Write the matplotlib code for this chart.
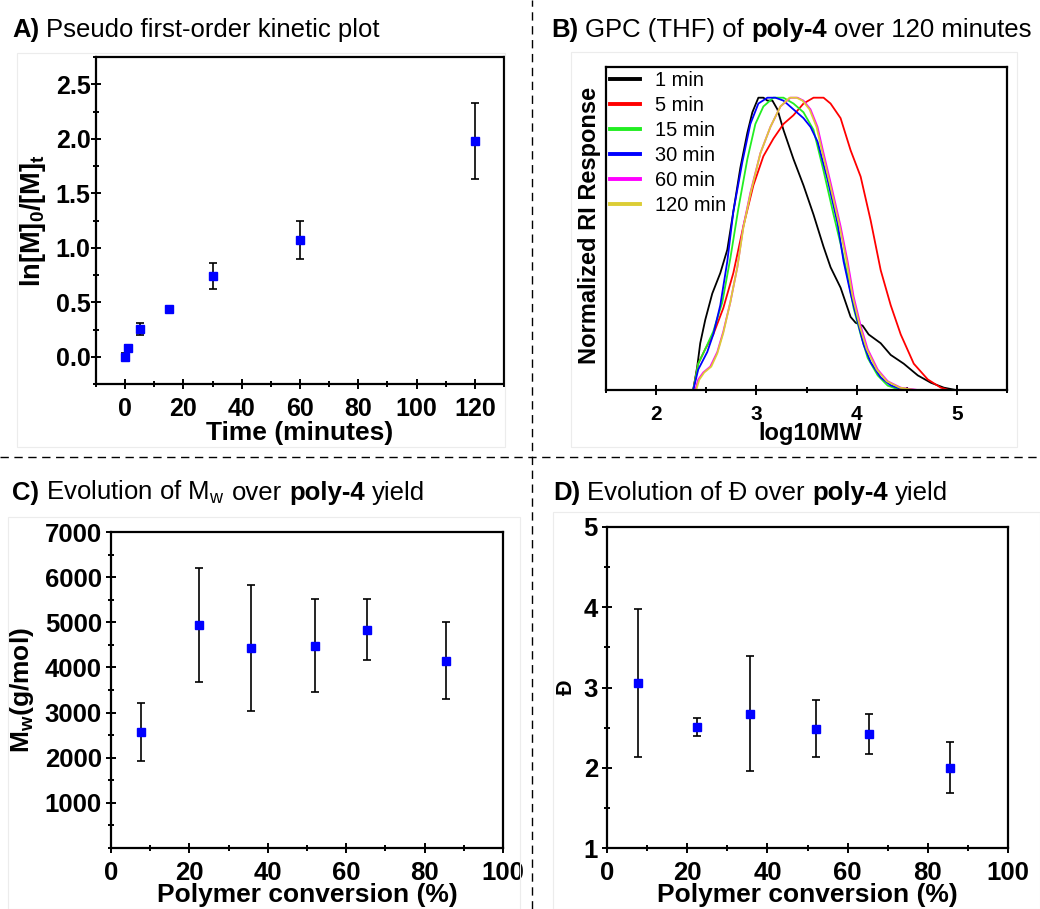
import matplotlib
matplotlib.use('Agg')
import matplotlib.pyplot as plt
from matplotlib.ticker import MultipleLocator, FormatStrFormatter
from matplotlib.lines import Line2D
from matplotlib.patches import Rectangle

plt.rcParams['font.family'] = ['Liberation Sans', 'DejaVu Sans']
plt.rcParams['font.weight'] = 'bold'
plt.rcParams['axes.labelweight'] = 'bold'
plt.rcParams['mathtext.fontset'] = 'custom'
plt.rcParams['mathtext.rm'] = 'Liberation Sans'
plt.rcParams['mathtext.bf'] = 'Liberation Sans:bold'
plt.rcParams['mathtext.it'] = 'Liberation Sans:italic'

# ---------------- data ----------------
# A) kinetic plot
time_min = [0, 1, 5, 15, 30, 60, 120]
ln_ratio = [0.0, 0.076, 0.254, 0.437, 0.74, 1.07, 1.977]
ln_err = [0.03, 0.03, 0.056, 0.02, 0.118, 0.174, 0.348]

# B) GPC traces (log10MW, normalized RI)
gpc_labels = ['1 min', '5 min', '15 min', '30 min', '60 min', '120 min']
gpc_colors = ['#000000', '#ff0000', '#22ee22', '#0000ff', '#ff00ff', '#dccd35']
black_x = [2.37, 2.41, 2.44, 2.49, 2.56, 2.64, 2.71, 2.77, 2.84, 2.91, 2.96, 3.02, 3.07, 3.11, 3.16, 3.21,
           3.27, 3.37, 3.47, 3.57, 3.67, 3.74, 3.84, 3.94, 3.99, 4.06, 4.12, 4.24, 4.34, 4.47, 4.61, 4.74,
           4.87, 4.99]
black_y = [0.0, 0.08, 0.16, 0.24, 0.33, 0.40, 0.48, 0.61, 0.76, 0.88, 0.95, 1.0, 1.0, 0.99, 0.99, 0.96,
           0.89, 0.79, 0.70, 0.60, 0.49, 0.42, 0.35, 0.25, 0.23, 0.22, 0.19, 0.16, 0.12, 0.09, 0.05, 0.025,
           0.008, 0.0]
red_x = [2.37, 2.42, 2.49, 2.57, 2.67, 2.77, 2.87, 2.97, 3.07, 3.17, 3.27, 3.37, 3.47, 3.57, 3.67, 3.74,
         3.84, 3.94, 4.04, 4.14, 4.24, 4.34, 4.44, 4.57, 4.71, 4.84, 4.92]
red_y = [0.0, 0.09, 0.14, 0.19, 0.28, 0.40, 0.56, 0.70, 0.80, 0.86, 0.91, 0.94, 0.98, 1.0, 1.0, 0.98,
         0.93, 0.82, 0.73, 0.58, 0.41, 0.29, 0.19, 0.09, 0.036, 0.008, 0.0]
green_x = [2.37, 2.42, 2.49, 2.57, 2.66, 2.74, 2.82, 2.91, 2.99, 3.07, 3.17, 3.27, 3.37, 3.47, 3.57, 3.67,
           3.77, 3.84, 3.91, 3.97, 4.04, 4.11, 4.21, 4.31, 4.41, 4.47]
green_y = [0.0, 0.09, 0.14, 0.20, 0.30, 0.45, 0.62, 0.79, 0.91, 0.97, 1.0, 1.0, 0.98, 0.95, 0.89, 0.75,
           0.60, 0.50, 0.39, 0.28, 0.19, 0.11, 0.05, 0.015, 0.003, 0.0]
blue_x = [2.37, 2.42, 2.51, 2.57, 2.64, 2.71, 2.77, 2.86, 2.94, 3.02, 3.11, 3.19, 3.27, 3.37, 3.47, 3.54,
          3.61, 3.71, 3.81, 3.87, 3.94, 4.01, 4.07, 4.14, 4.24, 4.34, 4.44, 4.54]
blue_y = [0.0, 0.07, 0.13, 0.19, 0.29, 0.44, 0.61, 0.78, 0.91, 0.98, 1.0, 1.0, 0.99, 0.96, 0.93, 0.90,
          0.85, 0.72, 0.57, 0.44, 0.33, 0.235, 0.155, 0.095, 0.043, 0.016, 0.004, 0.0]
magenta_x = [2.39, 2.42, 2.47, 2.54, 2.61, 2.67, 2.74, 2.81, 2.87, 2.94, 3.04, 3.14, 3.24, 3.34, 3.41,
             3.47, 3.54, 3.61, 3.67, 3.74, 3.84, 3.91, 3.97, 4.04, 4.11, 4.21, 4.31, 4.44, 4.61]
magenta_y = [0.0, 0.036, 0.06, 0.08, 0.13, 0.20, 0.30, 0.42, 0.56, 0.675, 0.81, 0.90, 0.97, 1.0, 1.0,
             0.99, 0.96, 0.90, 0.81, 0.71, 0.56, 0.44, 0.32, 0.22, 0.14, 0.07, 0.03, 0.008, 0.0]
yellow_x = [2.40, 2.43, 2.48, 2.55, 2.61, 2.67, 2.74, 2.81, 2.87, 2.94, 3.04, 3.14, 3.24, 3.33, 3.40,
            3.46, 3.53, 3.60, 3.66, 3.73, 3.83, 3.90, 3.96, 4.03, 4.10, 4.20, 4.30, 4.43, 4.58]
yellow_y = [0.0, 0.035, 0.06, 0.08, 0.125, 0.195, 0.30, 0.42, 0.555, 0.67, 0.81, 0.90, 0.97, 1.0, 1.0,
            0.99, 0.96, 0.90, 0.81, 0.71, 0.56, 0.44, 0.32, 0.22, 0.14, 0.07, 0.03, 0.008, 0.0]

# C) / D) vs conversion
conversion = [7.7, 22.4, 35.6, 52.1, 65.4, 85.5]
mw = [2570, 4940, 4430, 4480, 4840, 4150]
mw_err = [635, 1265, 1395, 1035, 680, 850]
disp = [3.06, 2.505, 2.675, 2.488, 2.426, 2.003]
disp_err = [0.92, 0.11, 0.72, 0.355, 0.25, 0.32]

# ---------------- figure ----------------
W, H = 1040, 909
fig = plt.figure(figsize=(W / 100, H / 100), dpi=100)


def ax_at(l, t, r, b):
    return fig.add_axes([l / W, 1 - b / H, (r - l) / W, (b - t) / H])


# faint panel frames
for (l, t, r, b) in [(17, 53, 505, 447), (571, 52, 1017, 447), (8, 517, 520, 909), (553, 512, 1040, 909)]:
    fig.add_artist(Rectangle((l / W, 1 - b / H), (r - l) / W, (b - t) / H, transform=fig.transFigure,
                             fill=False, edgecolor='#ececec', lw=0.8))

axA = ax_at(96, 57, 504, 384)
axB = ax_at(606, 67, 1007, 390)
axC = ax_at(111, 532, 503, 848)
axD = ax_at(607, 527, 1008, 848)


def style(ax, size=18, xpad=6, ypad=2):
    for s in ax.spines.values():
        s.set_linewidth(1.6)
    ax.tick_params(which='both', direction='inout', width=1.4, top=False, right=False, labelsize=size)
    ax.tick_params(which='major', length=7)
    ax.tick_params(which='minor', length=4.5)
    ax.tick_params(axis='x', pad=xpad)
    ax.tick_params(axis='y', pad=ypad)


def points(ax, x, y, e):
    ax.errorbar(x, y, yerr=e, fmt='none', ecolor='black', elinewidth=1.2, capsize=3, capthick=1.2, zorder=2)
    ax.plot(x, y, 's', color='#0000ff', ms=5.8, zorder=3)


# A
points(axA, time_min, ln_ratio, ln_err)
axA.set_xlim(-10, 130)
axA.set_ylim(-0.25, 2.75)
axA.xaxis.set_major_locator(MultipleLocator(20))
axA.xaxis.set_minor_locator(MultipleLocator(10))
axA.yaxis.set_major_locator(MultipleLocator(0.5))
axA.yaxis.set_minor_locator(MultipleLocator(0.25))
axA.yaxis.set_major_formatter(FormatStrFormatter('%.1f'))
style(axA, ypad=0.5)
axA.set_xlabel('Time (minutes)', fontsize=19, fontweight='bold', va='top')
axA.xaxis.set_label_coords(0.5, -0.112)
axA.set_ylabel(r'ln[M]$_\mathregular{0}$/[M]$_\mathregular{t}$', fontsize=19.5, fontweight='bold', va='center')
axA.yaxis.set_label_coords(-0.154, 0.5)

# B
gpc_x = [black_x, red_x, green_x, blue_x, magenta_x, yellow_x]
gpc_y = [black_y, red_y, green_y, blue_y, magenta_y, yellow_y]
for gx, gy, c in zip(gpc_x, gpc_y, gpc_colors):
    axB.plot(gx, gy, color=c, lw=1.3)
axB.set_xlim(1.5, 5.5)
axB.set_ylim(0, 1.105)
axB.xaxis.set_major_locator(MultipleLocator(1))
axB.xaxis.set_minor_locator(MultipleLocator(0.5))
axB.set_yticks([])
style(axB, size=15, xpad=7)
axB.set_xlabel('log10MW', fontsize=17, fontweight='bold', va='top')
axB.xaxis.set_label_coords(0.51, -0.098)
axB.set_ylabel('Normalized RI Response', fontsize=17, fontweight='bold', va='center')
axB.yaxis.set_label_coords(-0.04, 0.51)
handles = [Line2D([], [], color=c, lw=2.8) for c in gpc_colors]
axB.legend(handles, gpc_labels, loc='upper left', bbox_to_anchor=(0.0, 1.0), frameon=False,
           prop={'size': 14.4, 'weight': 'normal'}, handlelength=1.5, handletextpad=0.75,
           labelspacing=0.3, borderaxespad=0.1, borderpad=0.1)

# C
points(axC, conversion, mw, mw_err)
axC.set_xlim(0, 100)
axC.set_ylim(0, 7000)
axC.xaxis.set_major_locator(MultipleLocator(20))
axC.xaxis.set_minor_locator(MultipleLocator(10))
axC.yaxis.set_minor_locator(MultipleLocator(500))
axC.set_yticks([1000, 2000, 3000, 4000, 5000, 6000, 7000])
style(axC, size=18.5, xpad=6, ypad=3)
axC.set_xlabel('Polymer conversion (%)', fontsize=19, fontweight='bold', va='top')
axC.xaxis.set_label_coords(0.5, -0.11)
axC.set_ylabel(r'M$_\mathregular{w}$(g/mol)', fontsize=19, fontweight='bold', va='center')
axC.yaxis.set_label_coords(-0.227, 0.5)

# D
points(axD, conversion, disp, disp_err)
axD.set_xlim(0, 100)
axD.set_ylim(1, 5)
axD.xaxis.set_major_locator(MultipleLocator(20))
axD.xaxis.set_minor_locator(MultipleLocator(10))
axD.yaxis.set_major_locator(MultipleLocator(1))
axD.yaxis.set_minor_locator(MultipleLocator(0.5))
style(axD, size=18.5, xpad=6, ypad=3)
axD.set_xlabel('Polymer conversion (%)', fontsize=19, fontweight='bold', va='top')
axD.xaxis.set_label_coords(0.5, -0.11)
axD.set_ylabel('Đ', fontsize=15.5, fontweight='bold', va='center')
axD.yaxis.set_label_coords(-0.102, 0.5)

# dashed separators
fig.add_artist(Line2D([532 / W, 532 / W], [0, 1], transform=fig.transFigure, color='black', lw=1.0,
                      ls=(0, (6, 4))))
fig.add_artist(Line2D([0, 1], [1 - 457 / H, 1 - 457 / H], transform=fig.transFigure, color='black', lw=1.0,
                      ls=(0, (6, 4))))

# panel titles with mixed weights
renderer = fig.canvas.get_renderer()


def rich(x_px, y_px, parts, size=18.5):
    x = x_px
    for s, w in parts:
        if s == ' ':
            x += 0.278 * size * 100 / 72
            continue
        t = fig.text(x / W, 1 - y_px / H, s, fontsize=size, fontweight=w, ha='left', va='baseline')
        x = t.get_window_extent(renderer=renderer).x1


SP = (' ', None)
rich(12, 37, [('A)', 'bold'), SP, ('Pseudo first-order kinetic plot', 'normal')])
rich(551, 37, [('B)', 'bold'), SP, ('GPC (THF) of', 'normal'), SP, ('poly-4', 'bold'), SP,
               ('over 120 minutes', 'normal')])
rich(12, 500, [('C)', 'bold'), SP, (r'Evolution of M$_\mathregular{w}$', 'normal'), SP, ('over', 'normal'), SP,
               ('poly-4', 'bold'), SP, ('yield', 'normal')])
rich(553, 500, [('D)', 'bold'), SP, ('Evolution of Đ over', 'normal'), SP, ('poly-4', 'bold'), SP,
                ('yield', 'normal')])

fig.savefig('out.png', dpi=100)
